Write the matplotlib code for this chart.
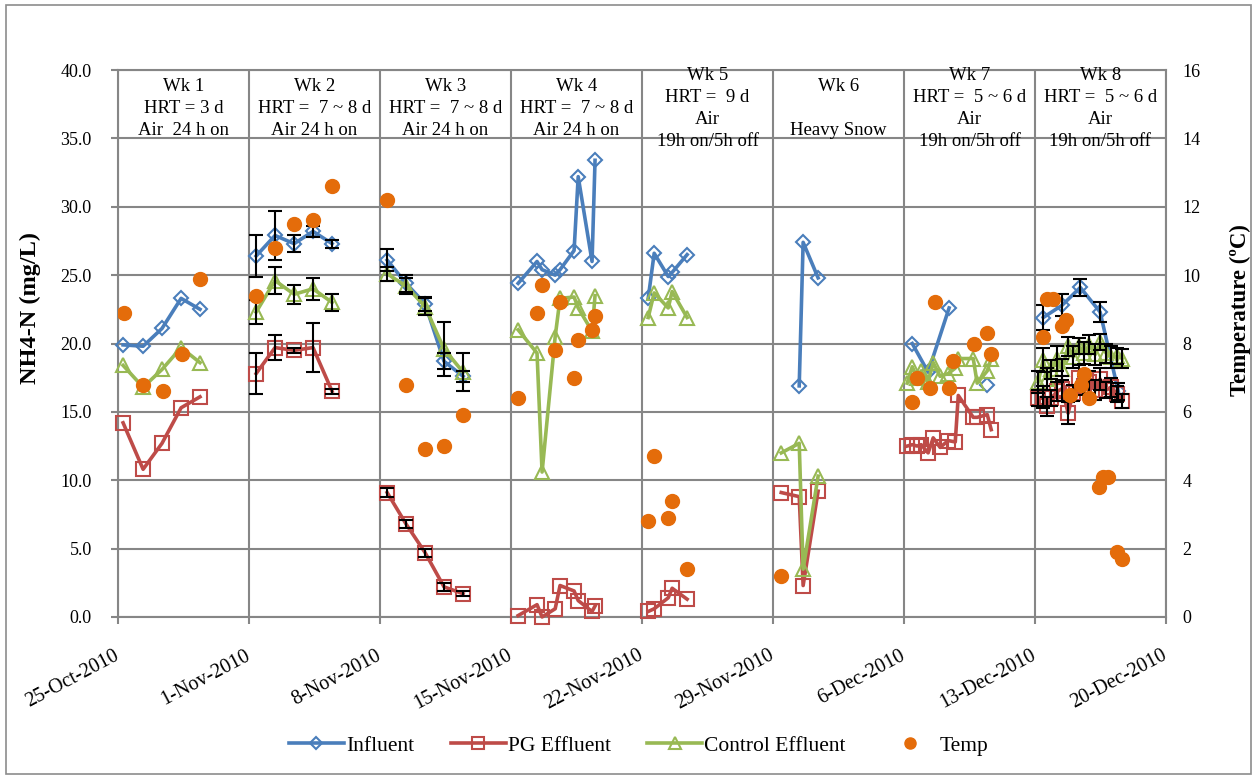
import matplotlib.pyplot as plt
import matplotlib.dates as mdates
from matplotlib.patches import Rectangle
import numpy as np
import pandas as pd

plt.rcParams['font.family'] = ['Liberation Serif', 'DejaVu Serif']

start = pd.Timestamp('2010-10-25')

# sampling times are days after 25-Oct-2010
inf_day = [0.27, 1.34, 2.35, 3.37, 4.38,
           7.38, 8.39, 9.41, 10.42, 11.44,
           14.38, 15.39, 16.41, 17.42, 18.44,
           21.38, 22.39, 22.66, 23.36, 23.62, 24.37, 24.59, 25.33, 25.49,
           28.33, 28.65, 29.40, 29.61, 30.41,
           36.40, 36.61, 37.41,
           42.44, 43.29, 44.41, 46.45,
           49.44, 50.45, 51.42, 52.48, 53.45]
inf_val = [19.9, 19.8, 21.1, 23.3, 22.5,
           26.4, 27.9, 27.3, 28.2, 27.3,
           26.1, 24.4, 22.9, 18.7, 17.6,
           24.4, 26.0, 25.4, 25.0, 25.4, 26.8, 32.2, 26.0, 33.4,
           23.3, 26.6, 24.9, 25.2, 26.5,
           16.9, 27.4, 24.8,
           20.0, 17.9, 22.6, 17.0,
           21.9, 22.8, 24.1, 22.3, 16.5]
inf_err = [0, 0, 0, 0, 0,
           1.5, 1.8, 0.6, 0.4, 0.3,
           0.8, 0.6, 0.5, 0.6, 0.4,
           0, 0, 0, 0, 0, 0, 0, 0, 0,
           0, 0, 0, 0, 0,
           0, 0, 0,
           0, 0, 0, 0,
           0.9, 0.8, 0.6, 0.7, 0.6]

pg_day = [0.27, 1.34, 2.35, 3.37, 4.38,
          7.38, 8.39, 9.41, 10.42, 11.44,
          14.38, 15.39, 16.41, 17.42, 18.44,
          21.38, 22.39, 22.66, 23.36, 23.62, 24.37, 24.59, 25.33, 25.49,
          28.33, 28.65, 29.40, 29.61, 30.41,
          35.44, 36.40, 36.61, 37.41,
          42.17, 42.44, 42.70, 42.92, 43.29, 43.56, 43.93, 44.36, 44.74, 44.90,
          45.70, 45.91, 46.45, 46.66,
          49.17, 49.44, 49.65, 49.87, 50.19, 50.45, 50.77, 51.04, 51.36, 51.63,
          51.90, 52.22, 52.48, 52.80, 53.07, 53.40, 53.66]
pg_val = [14.2, 10.8, 12.7, 15.3, 16.1,
          17.8, 19.7, 19.5, 19.7, 16.5,
          9.1, 6.8, 4.7, 2.2, 1.7,
          0.1, 0.9, 0.0, 0.6, 2.3, 1.9, 1.2, 0.4, 0.8,
          0.4, 0.6, 1.4, 2.1, 1.3,
          9.1, 8.8, 2.3, 9.2,
          12.5, 12.6, 12.5, 12.6, 12.0, 13.1, 12.4, 12.9, 12.8, 16.2,
          14.6, 14.6, 14.8, 13.7,
          16.0, 16.1, 15.4, 16.0, 16.5, 16.7, 14.9, 16.4, 17.5, 16.9,
          17.2, 16.6, 17.4, 16.6, 16.8, 16.3, 15.8]
pg_err = [0, 0, 0, 0, 0,
          1.5, 0.9, 0.2, 1.8, 0.2,
          0.3, 0.3, 0.3, 0.3, 0.2,
          0, 0, 0, 0, 0, 0, 0, 0, 0,
          0, 0, 0, 0, 0,
          0, 0, 0, 0,
          0, 0, 0, 0, 0, 0, 0, 0, 0, 0,
          0, 0, 0, 0,
          0.6, 0.8, 0.7, 0.6, 0.7, 0.9, 0.8, 0.6, 0.9, 0.7,
          0.8, 0.7, 0.8, 0.6, 0.7, 0.6, 0.5]

ctl_day = pg_day
ctl_val = [18.4, 16.8, 18.1, 19.7, 18.6,
           22.3, 24.6, 23.6, 24.0, 23.0,
           25.1, 24.2, 22.7, 19.6, 17.9,
           21.0, 19.3, 10.6, 20.5, 23.3, 23.4, 22.6, 20.9, 23.5,
           21.9, 23.7, 22.6, 23.8, 21.9,
           12.0, 12.7, 3.5, 10.3,
           17.1, 18.3, 17.5, 18.0, 17.2, 18.6, 17.6, 17.8, 18.2, 18.9,
           18.9, 17.1, 18.0, 18.9,
           17.2, 18.8, 17.4, 18.1, 18.9, 18.1, 19.8, 19.0, 19.8, 19.3,
           19.9, 19.2, 20.1, 19.3, 19.0, 19.1, 18.9]
ctl_err = [0, 0, 0, 0, 0,
           0.9, 1.0, 0.7, 0.8, 0.6,
           0.5, 0.6, 0.6, 2.0, 1.4,
           0, 0, 0, 0, 0, 0, 0, 0, 0,
           0, 0, 0, 0, 0,
           0, 0, 0, 0,
           0, 0, 0, 0, 0, 0, 0, 0, 0, 0,
           0, 0, 0, 0,
           0.8, 0.9, 0.8, 0.7, 0.9, 0.8, 0.7, 0.8, 0.6, 0.8,
           0.7, 0.8, 0.6, 0.7, 0.8, 0.6, 0.7]

temp_day = [0.32, 1.34, 2.41, 3.42, 4.38,
            7.38, 8.39, 9.41, 10.42, 11.44,
            14.38, 15.39, 16.41, 17.42, 18.44,
            21.38, 22.39, 22.66, 23.36, 23.62, 24.37, 24.59, 25.33, 25.49,
            28.33, 28.65, 29.40, 29.61, 30.41,
            35.44,
            42.44, 42.70, 43.40, 43.67, 44.41, 44.63, 45.75, 46.45, 46.66,
            49.44, 49.65, 49.97, 50.45, 50.67, 50.88, 51.47, 51.63, 51.90,
            52.43, 52.64, 52.91, 53.39, 53.66]
temp_val = [8.9, 6.8, 6.6, 7.7, 9.9,
            9.4, 10.8, 11.5, 11.6, 12.6,
            12.2, 6.8, 4.9, 5.0, 5.9,
            6.4, 8.9, 9.7, 7.8, 9.2, 7.0, 8.1, 8.4, 8.8,
            2.8, 4.7, 2.9, 3.4, 1.4,
            1.2,
            6.3, 7.0, 6.7, 9.2, 6.7, 7.5, 8.0, 8.3, 7.7,
            8.2, 9.3, 9.3, 8.5, 8.7, 6.5, 6.8, 7.1, 6.4,
            3.8, 4.1, 4.1, 1.9, 1.7]

week_notes = ['Wk 1\nHRT = 3 d\nAir  24 h on',
              'Wk 2\nHRT =  7 ~ 8 d\nAir 24 h on',
              'Wk 3\nHRT =  7 ~ 8 d\nAir 24 h on',
              'Wk 4\nHRT =  7 ~ 8 d\nAir 24 h on',
              'Wk 5\nHRT =  9 d\nAir\n19h on/5h off',
              'Wk 6\n\nHeavy Snow',
              'Wk 7\nHRT =  5 ~ 6 d\nAir\n19h on/5h off',
              'Wk 8\nHRT =  5 ~ 6 d\nAir\n19h on/5h off']


def to_dates(days):
    return mdates.date2num(start + pd.to_timedelta(np.array(days), unit='D'))


def draw_series(ax, days, vals, errs, color, marker, ms, label):
    x = to_dates(days)
    y = np.array(vals)
    e = np.array(errs)
    # break the line wherever sampling stops for more than two days
    cuts = np.where(np.diff(days) > 2)[0] + 1
    first = True
    for xs, ys in zip(np.split(x, cuts), np.split(y, cuts)):
        ax.plot(xs, ys, color=color, lw=2.6, marker=marker, ms=ms,
                mfc='none', mec=color, mew=1.5, zorder=3, clip_on=False,
                label=label if first else None)
        first = False
    m = e > 0
    ax.errorbar(x[m], y[m], yerr=e[m], fmt='none', ecolor='black',
                elinewidth=1.5, capsize=5, capthick=1.5, zorder=4)


fig = plt.figure(figsize=(12.57, 7.79), dpi=100)
ax = fig.add_axes([0.0939, 0.2080, 0.8337, 0.7021])

draw_series(ax, inf_day, inf_val, inf_err, '#4A7EBB', 'D', 7.5, 'Influent')
draw_series(ax, pg_day, pg_val, pg_err, '#BE4B48', 's', 10, 'PG Effluent')
draw_series(ax, ctl_day, ctl_val, ctl_err, '#98B954', '^', 10, 'Control Effluent')

ax.set_xlim(to_dates([0, 56]))
ax.set_ylim(0, 40)
ticks = pd.date_range(start, periods=9, freq='7D')
ax.set_xticks(mdates.date2num(ticks))
ax.set_xticklabels([f'{t.day}-{t.strftime("%b-%Y")}' for t in ticks],
                   rotation=28, ha='right', va='center', rotation_mode='anchor')
ax.set_yticks(np.arange(0, 41, 5))
ax.set_yticklabels([f'{v:.1f}' for v in np.arange(0, 41, 5)])
ax.grid(True, color='#868686', lw=1.5)
ax.set_axisbelow(True)
for s in ax.spines.values():
    s.set_color('#868686')
    s.set_linewidth(1.5)
ax.tick_params(labelsize=14.5, color='#868686', width=1.5, length=5)
ax.tick_params(axis='x', pad=22)
ax.tick_params(axis='y', labelsize=13, pad=14)
ax.set_ylabel('NH4-N (mg/L)', fontsize=17.5, fontweight='bold', va='center')
ax.yaxis.set_label_coords(-0.084, 0.565)

for i, note in enumerate(week_notes):
    xc = to_dates([7 * i + 3.5])[0]
    ax.text(xc, 37.2, note, ha='center', va='center', fontsize=13.5,
            linespacing=1.38, zorder=5)

ax2 = ax.twinx()
ax2.plot(to_dates(temp_day), temp_val, 'o', color='#E46C0A', ms=10,
         mec='#E46C0A', ls='none', label='Temp')
ax2.set_ylim(0, 16)
ax2.set_yticks(np.arange(0, 17, 2))
ax2.tick_params(labelsize=13, length=0, pad=12)
for s in ax2.spines.values():
    s.set_visible(False)
ax2.set_ylabel('Temperature (ºC)', fontsize=16.5, fontweight='bold', va='center')
ax2.yaxis.set_label_coords(1.0706, 0.561)

h1, l1 = ax.get_legend_handles_labels()
h2, l2 = ax2.get_legend_handles_labels()
fig.legend(h1 + h2, l1 + l2, loc='center', bbox_to_anchor=(0.508, 0.043),
           ncol=4, frameon=False, fontsize=15.5, handlelength=2.55,
           columnspacing=1.7, handletextpad=0.1, markerscale=0.8)

fig.patches.append(Rectangle((0.005, 0.006), 0.99, 0.988,
                             transform=fig.transFigure, fill=False,
                             ec='#8c8c8c', lw=1.2))

fig.savefig('out.png', dpi=100)
